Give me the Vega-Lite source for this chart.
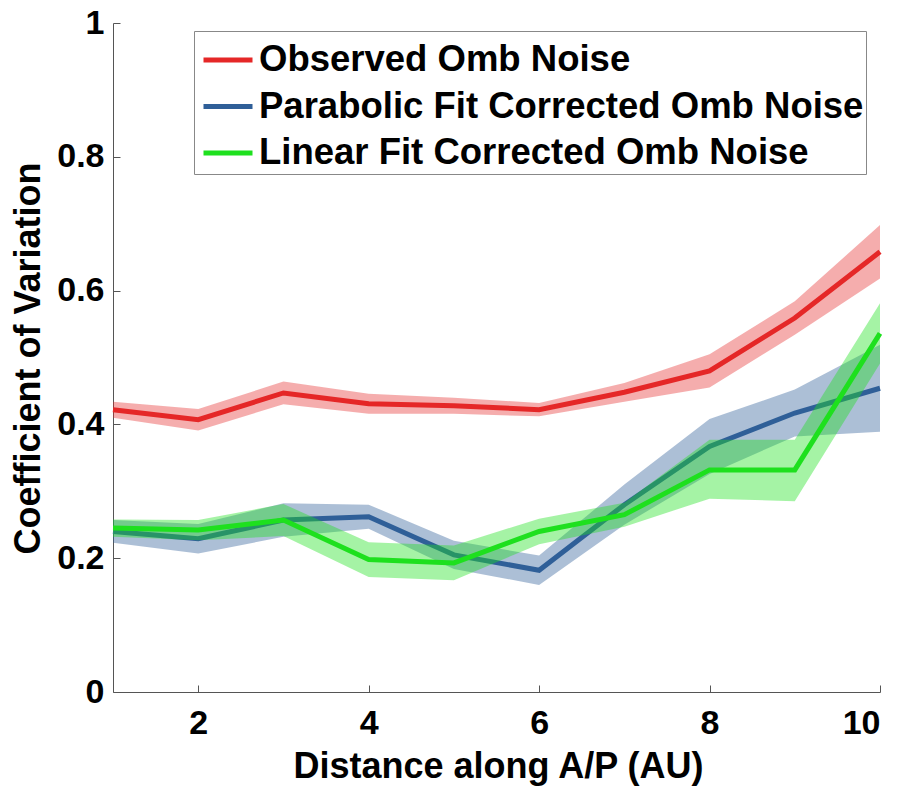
{
  "$schema": "https://vega.github.io/schema/vega-lite/v6.json",
  "autosize": "none",
  "padding": {"left": 113, "top": 23, "right": 22, "bottom": 95},
  "width": 767,
  "height": 669,
  "background": "white",
  "data": {"values": [
    {"series": "Observed Omb Noise", "x": 1, "m": 0.422, "lo": 0.410, "hi": 0.434},
    {"series": "Observed Omb Noise", "x": 2, "m": 0.407, "lo": 0.391, "hi": 0.423},
    {"series": "Observed Omb Noise", "x": 3, "m": 0.447, "lo": 0.430, "hi": 0.464},
    {"series": "Observed Omb Noise", "x": 4, "m": 0.431, "lo": 0.416, "hi": 0.446},
    {"series": "Observed Omb Noise", "x": 5, "m": 0.428, "lo": 0.416, "hi": 0.440},
    {"series": "Observed Omb Noise", "x": 6, "m": 0.422, "lo": 0.412, "hi": 0.432},
    {"series": "Observed Omb Noise", "x": 7, "m": 0.448, "lo": 0.434, "hi": 0.462},
    {"series": "Observed Omb Noise", "x": 8, "m": 0.480, "lo": 0.455, "hi": 0.505},
    {"series": "Observed Omb Noise", "x": 9, "m": 0.559, "lo": 0.534, "hi": 0.584},
    {"series": "Observed Omb Noise", "x": 10, "m": 0.658, "lo": 0.618, "hi": 0.698},
    {"series": "Parabolic Fit Corrected Omb Noise", "x": 1, "m": 0.240, "lo": 0.223, "hi": 0.257},
    {"series": "Parabolic Fit Corrected Omb Noise", "x": 2, "m": 0.229, "lo": 0.207, "hi": 0.251},
    {"series": "Parabolic Fit Corrected Omb Noise", "x": 3, "m": 0.257, "lo": 0.232, "hi": 0.282},
    {"series": "Parabolic Fit Corrected Omb Noise", "x": 4, "m": 0.262, "lo": 0.244, "hi": 0.280},
    {"series": "Parabolic Fit Corrected Omb Noise", "x": 5, "m": 0.205, "lo": 0.184, "hi": 0.226},
    {"series": "Parabolic Fit Corrected Omb Noise", "x": 6, "m": 0.182, "lo": 0.160, "hi": 0.204},
    {"series": "Parabolic Fit Corrected Omb Noise", "x": 7, "m": 0.280, "lo": 0.250, "hi": 0.310},
    {"series": "Parabolic Fit Corrected Omb Noise", "x": 8, "m": 0.367, "lo": 0.326, "hi": 0.408},
    {"series": "Parabolic Fit Corrected Omb Noise", "x": 9, "m": 0.417, "lo": 0.382, "hi": 0.452},
    {"series": "Parabolic Fit Corrected Omb Noise", "x": 10, "m": 0.454, "lo": 0.389, "hi": 0.519},
    {"series": "Linear Fit Corrected Omb Noise", "x": 1, "m": 0.245, "lo": 0.232, "hi": 0.258},
    {"series": "Linear Fit Corrected Omb Noise", "x": 2, "m": 0.242, "lo": 0.227, "hi": 0.257},
    {"series": "Linear Fit Corrected Omb Noise", "x": 3, "m": 0.257, "lo": 0.233, "hi": 0.281},
    {"series": "Linear Fit Corrected Omb Noise", "x": 4, "m": 0.198, "lo": 0.172, "hi": 0.224},
    {"series": "Linear Fit Corrected Omb Noise", "x": 5, "m": 0.193, "lo": 0.167, "hi": 0.219},
    {"series": "Linear Fit Corrected Omb Noise", "x": 6, "m": 0.240, "lo": 0.221, "hi": 0.259},
    {"series": "Linear Fit Corrected Omb Noise", "x": 7, "m": 0.265, "lo": 0.247, "hi": 0.283},
    {"series": "Linear Fit Corrected Omb Noise", "x": 8, "m": 0.332, "lo": 0.289, "hi": 0.377},
    {"series": "Linear Fit Corrected Omb Noise", "x": 9, "m": 0.332, "lo": 0.285, "hi": 0.377},
    {"series": "Linear Fit Corrected Omb Noise", "x": 10, "m": 0.536, "lo": 0.491, "hi": 0.581}
  ]},
  "encoding": {
    "x": {"field": "x", "type": "quantitative",
      "scale": {"domain": [1, 10], "nice": false, "zero": false},
      "axis": {"title": "Distance along A/P (AU)", "values": [2, 4, 6, 8, 10], "titleX": 385, "titleY": 85, "titleBaseline": "alphabetic", "titleAnchor": "middle"}},
    "color": {"field": "series", "type": "nominal",
      "scale": {"domain": ["Observed Omb Noise", "Parabolic Fit Corrected Omb Noise", "Linear Fit Corrected Omb Noise"], "range": ["#e52727", "#2f5f98", "#1ee01e"]},
      "legend": {"title": null, "orient": "none", "legendX": 81, "legendY": 8, "symbolType": "stroke", "symbolOpacity": 1, "symbolStrokeWidth": 5}}
  },
  "layer": [
    {"transform": [{"filter": "datum.series === 'Observed Omb Noise'"}],
     "mark": {"type": "area", "fillOpacity": 0.38},
     "encoding": {
       "y": {"field": "lo", "type": "quantitative", "scale": {"domain": [0, 1], "nice": false}, "axis": {"title": "Coefficient of Variation", "values": [0, 0.2, 0.4, 0.6, 0.8, 1], "format": ".1~f", "titleX": -74, "titleY": 335, "titleAngle": -90, "titleBaseline": "alphabetic", "titleAlign": "center"}},
       "y2": {"field": "hi"}
     }},
    {"transform": [{"filter": "datum.series === 'Observed Omb Noise'"}],
     "mark": {"type": "line", "strokeWidth": 5},
     "encoding": {"y": {"field": "m", "type": "quantitative"}}},
    {"transform": [{"filter": "datum.series === 'Parabolic Fit Corrected Omb Noise'"}],
     "mark": {"type": "area", "fillOpacity": 0.4},
     "encoding": {"y": {"field": "lo", "type": "quantitative"}, "y2": {"field": "hi"}}},
    {"transform": [{"filter": "datum.series === 'Parabolic Fit Corrected Omb Noise'"}],
     "mark": {"type": "line", "strokeWidth": 5},
     "encoding": {"y": {"field": "m", "type": "quantitative"}}},
    {"transform": [{"filter": "datum.series === 'Linear Fit Corrected Omb Noise'"}],
     "mark": {"type": "area", "fillOpacity": 0.4},
     "encoding": {"y": {"field": "lo", "type": "quantitative"}, "y2": {"field": "hi"}}},
    {"transform": [{"filter": "datum.series === 'Linear Fit Corrected Omb Noise'"}],
     "mark": {"type": "line", "strokeWidth": 5},
     "encoding": {"y": {"field": "m", "type": "quantitative"}}}
  ],
  "config": {
    "view": {"stroke": null},
    "font": "Liberation Sans",
    "axis": {
      "grid": false,
      "domainColor": "#555555",
      "domainWidth": 1,
      "tickColor": "#555555",
      "tickSize": -7,
      "labelFont": "Liberation Sans",
      "labelFontSize": 34,
      "labelFontWeight": "bold",
      "labelColor": "black",
      "titleFont": "Liberation Sans",
      "titleFontSize": 36,
      "titleFontWeight": "bold",
      "titleColor": "black"
    },
    "axisX": {"labelPadding": 21},
    "axisY": {"labelPadding": 16},
    "legend": {
      "strokeColor": "#888888",
      "fillColor": "white",
      "padding": 2,
      "symbolOffset": 5,
      "symbolType": "stroke",
      "symbolSize": 2401,
      "symbolStrokeWidth": 5,
      "labelFont": "Liberation Sans",
      "labelFontSize": 36.5,
      "labelFontWeight": "bold",
      "labelColor": "black",
      "labelOffset": 4,
      "rowPadding": 0.5,
      "labelLimit": 1000
    }
  }
}
